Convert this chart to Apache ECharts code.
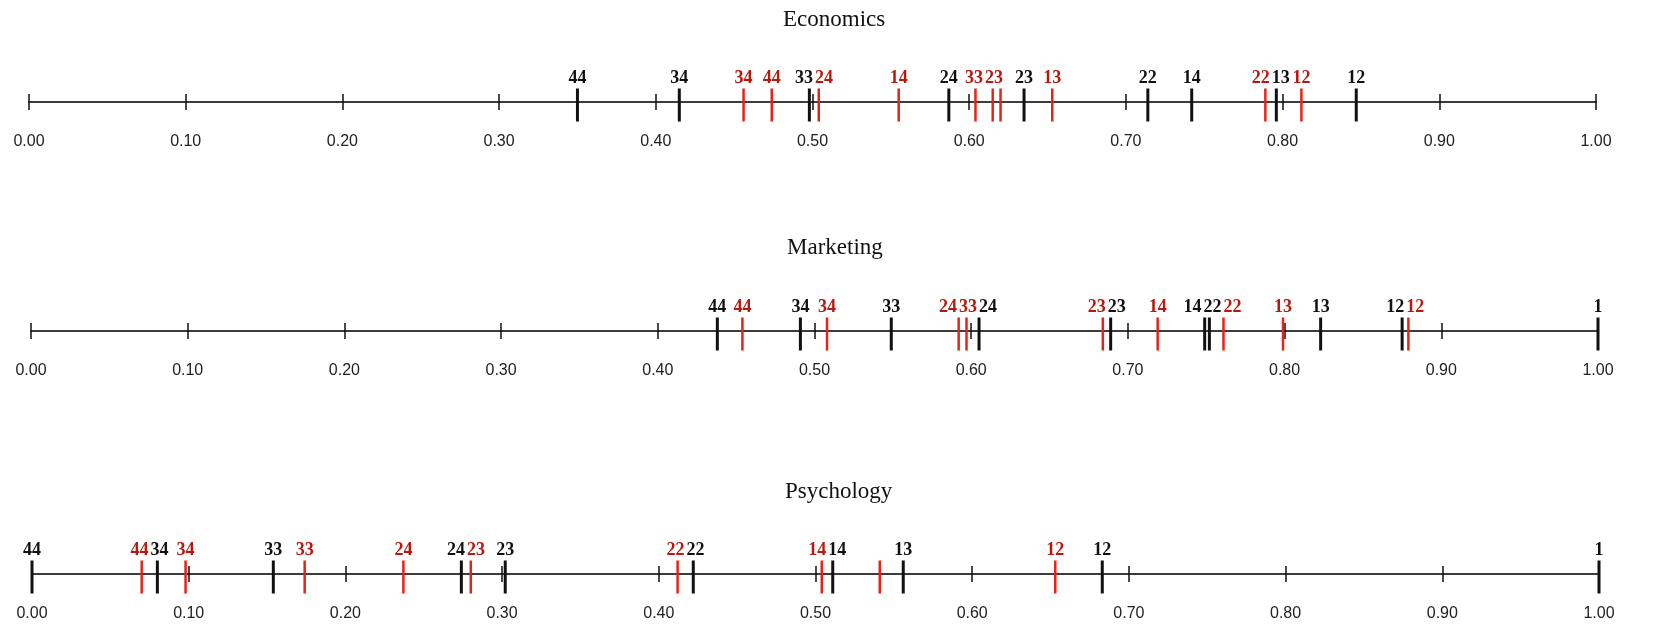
<!DOCTYPE html>
<html>
<head>
<meta charset="utf-8">
<script src="https://cdn.jsdelivr.net/npm/echarts@6/dist/echarts.min.js"></script>
<style>
    html, body { margin: 0; padding: 0; background: #fff; }
    #main { width: 1673px; height: 626px; }
</style>
</head>
<body>
<div id="main"></div>
<script>
var panelTitles = ['Economics', 'Marketing', 'Psychology'];
var tickLabels = ['0.00', '0.10', '0.20', '0.30', '0.40', '0.50', '0.60', '0.70', '0.80', '0.90', '1.00'];

// Economics
var ecoBlackNames = ['44', '34', '33', '24', '23', '22', '14', '13', '12'];
var ecoBlackValues = [0.350, 0.415, 0.498, 0.587, 0.635, 0.714, 0.742, 0.796, 0.847];
var ecoRedNames = ['34', '44', '24', '14', '33', '23', '', '13', '22', '12'];
var ecoRedValues = [0.456, 0.474, 0.504, 0.555, 0.604, 0.615, 0.620, 0.653, 0.789, 0.812];

// Marketing
var mktBlackNames = ['44', '34', '33', '24', '23', '14', '22', '13', '12', '1'];
var mktBlackValues = [0.438, 0.491, 0.549, 0.605, 0.689, 0.749, 0.752, 0.823, 0.875, 1.000];
var mktRedNames = ['44', '34', '24', '33', '23', '14', '22', '13', '12'];
var mktRedValues = [0.454, 0.508, 0.592, 0.597, 0.684, 0.719, 0.761, 0.799, 0.879];

// Psychology
var psyBlackNames = ['44', '34', '33', '24', '23', '22', '14', '13', '12', '1'];
var psyBlackValues = [0.000, 0.080, 0.154, 0.274, 0.302, 0.422, 0.511, 0.556, 0.683, 1.000];
var psyRedNames = ['44', '34', '33', '24', '23', '22', '14', '', '12'];
var psyRedValues = [0.070, 0.098, 0.174, 0.237, 0.280, 0.412, 0.504, 0.541, 0.653];

var marks = [
    [{names: ecoBlackNames, values: ecoBlackValues, red: false}, {names: ecoRedNames, values: ecoRedValues, red: true}],
    [{names: mktBlackNames, values: mktBlackValues, red: false}, {names: mktRedNames, values: mktRedValues, red: true}],
    [{names: psyBlackNames, values: psyBlackValues, red: false}, {names: psyRedNames, values: psyRedValues, red: true}]
];

// layout
var lineY = [102, 331, 574];
var gridLeft = [29, 31, 32];
var plotWidth = 1567;
var titleLeft = [783, 787, 785];
var titleTop = [8, 236, 480];
var labelFont = 'bold 18px "Liberation Serif"';

var shifts = {};   // seriesIndex -> dx per label

function buildOption() {
    var grid = [], xAxis = [], yAxis = [], title = [], series = [];
    for (var p = 0; p < 3; p++) {
        grid.push({left: gridLeft[p], width: plotWidth, top: lineY[p] - 40, height: 40});
        title.push({
            text: panelTitles[p],
            left: titleLeft[p],
            top: titleTop[p],
            padding: 0,
            textStyle: {fontFamily: 'Liberation Serif', fontWeight: 'normal', fontSize: 23, color: '#111'}
        });
        var base = {
            type: 'value', gridIndex: p, min: 0, max: 1, interval: 0.1,
            position: 'bottom', splitLine: {show: false}
        };
        // ticks below the line + labels
        xAxis.push(Object.assign({}, base, {
            axisLine: {show: true, onZero: false, lineStyle: {color: '#3c3c3c', width: 2}},
            axisTick: {show: true, length: 8, lineStyle: {color: '#111', width: 1.5}},
            axisLabel: {
                show: true, margin: 32, fontFamily: 'Liberation Sans', fontSize: 16, color: '#222',
                formatter: function(v) { return tickLabels[Math.round(v * 10)]; }
            }
        }));
        // ticks above the line
        xAxis.push(Object.assign({}, base, {
            axisLine: {show: false, onZero: false},
            axisTick: {show: true, inside: true, length: 8, lineStyle: {color: '#111', width: 1.5}},
            axisLabel: {show: false}
        }));
        yAxis.push({type: 'value', gridIndex: p, min: 0, max: 1, show: false});

        marks[p].forEach(function(m) {
            var names = m.names;
            series.push({
                type: 'scatter',
                xAxisIndex: 2 * p,
                yAxisIndex: p,
                silent: true,
                clip: false,
                symbol: 'rect',
                symbolSize: m.red ? [2.5, 33] : [3, 33],
                symbolOffset: [0, 3],
                itemStyle: {color: m.red ? '#e4241a' : '#111', opacity: 1},
                z: m.red ? 3 : 4,
                data: m.values.map(function(v) { return [v, 0]; }),
                label: {
                    show: true,
                    position: 'top',
                    distance: 1,
                    fontFamily: 'Liberation Serif',
                    fontWeight: 'bold',
                    fontSize: 18,
                    color: m.red ? '#b5190f' : '#111',
                    formatter: function(params) { return names[params.dataIndex]; }
                },
                labelLayout: function(params) {
                    var a = shifts[params.seriesIndex];
                    return {dx: a ? (a[params.dataIndex] || 0) : 0};
                }
            });
        });
    }
    return {
        animation: false,
        backgroundColor: '#fff',
        title: title,
        grid: grid,
        xAxis: xAxis,
        yAxis: yAxis,
        series: series
    };
}

var chart = echarts.init(document.getElementById('main'));
chart.setOption(buildOption());

// spread overlapping labels around their marks
var ctx = document.createElement('canvas').getContext('2d');
ctx.font = labelFont;

function fit(c) {
    var cum = 0, sum = 0;
    c.items.forEach(function(it) {
        sum += it.x - cum - it.w / 2;
        cum += it.w;
    });
    c.left = sum / c.items.length;
    c.width = cum;
}

for (var p = 0; p < 3; p++) {
    var items = [];
    marks[p].forEach(function(m, k) {
        var s = 2 * p + k;
        shifts[s] = [];
        m.values.forEach(function(v, i) {
            shifts[s][i] = 0;
            if (!m.names[i]) return;
            items.push({
                s: s, i: i,
                x: chart.convertToPixel({xAxisIndex: 2 * p}, v),
                w: ctx.measureText(m.names[i]).width + 2
            });
        });
    });
    items.sort(function(a, b) { return a.x - b.x; });
    var clusters = [];
    items.forEach(function(it) {
        var c = {items: [it]};
        fit(c);
        clusters.push(c);
        while (clusters.length > 1) {
            var a = clusters[clusters.length - 2], b = clusters[clusters.length - 1];
            if (a.left + a.width > b.left) {
                a.items = a.items.concat(b.items);
                clusters.pop();
                fit(a);
            } else {
                break;
            }
        }
    });
    clusters.forEach(function(c) {
        var cum = 0;
        c.items.forEach(function(it) {
            shifts[it.s][it.i] = c.left + cum + it.w / 2 - it.x;
            cum += it.w;
        });
    });
}

chart.setOption(buildOption(), true);
</script>
</body>
</html>
